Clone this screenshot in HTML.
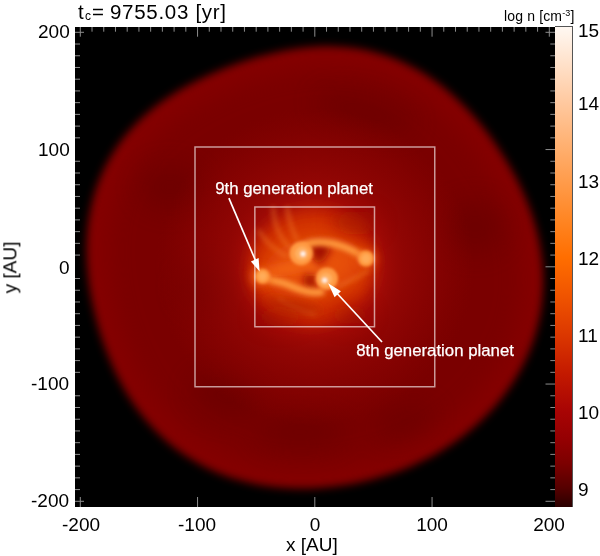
<!DOCTYPE html>
<html><head><meta charset="utf-8">
<style>
html,body{margin:0;padding:0;background:#fff;}
body{width:600px;height:556px;position:relative;overflow:hidden;font-family:"Liberation Sans",sans-serif;color:#000;}
.t{position:absolute;white-space:nowrap;line-height:1;will-change:transform;}
#plot{position:absolute;left:75px;top:27px;width:480px;height:480px;background:#000;overflow:hidden;}
#cbar{position:absolute;left:555px;top:26px;width:17px;height:480px;border:1px solid #555;border-left:none;border-bottom:none;
background:linear-gradient(to top,#2a0000 0%,#560000 4%,#7c0000 9%,#940002 14%,#a80404 20%,#c41a00 28%,#dc3800 36%,#f05400 44%,#ff6e00 52%,#ff8624 60%,#ff9c4c 68%,#ffb274 76%,#ffc89e 84%,#ffe0c8 92%,#fff8f2 100%);}
.yl{font-size:19px;}
.xl{font-size:19px;}
.cl{font-size:19px;}
</style></head>
<body>
<div class="t" style="left:77.5px;top:1.5px;font-size:20.5px;">t</div>
<div class="t" style="left:84.6px;top:9.5px;font-size:12px;">c</div>
<div class="t" style="left:92px;top:1.5px;font-size:20.5px;">=</div>
<div class="t" style="left:110px;top:1.5px;font-size:20.5px;letter-spacing:0.7px;">9755.03 [yr]</div>
<div class="t" style="left:504px;top:8.6px;font-size:14px;letter-spacing:0.15px;">log n [cm<span style="font-size:9px;position:relative;top:-4.6px;">-3</span>]</div>
<div id="plot">
<svg width="480" height="480" viewBox="0 0 480 480">
<!--CONTENT-->
<defs>
<filter id="b6" x="-20%" y="-20%" width="140%" height="140%"><feGaussianBlur stdDeviation="4.2"/></filter>
<filter id="b12" x="-100%" y="-100%" width="300%" height="300%"><feGaussianBlur stdDeviation="12"/></filter>
<filter id="b8" x="-50%" y="-50%" width="200%" height="200%"><feGaussianBlur stdDeviation="8"/></filter>
<filter id="b10" x="-50%" y="-50%" width="200%" height="200%"><feGaussianBlur stdDeviation="10"/></filter>
<filter id="b4" x="-50%" y="-50%" width="200%" height="200%"><feGaussianBlur stdDeviation="4"/></filter>
<filter id="b3" x="-50%" y="-50%" width="200%" height="200%"><feGaussianBlur stdDeviation="2.5"/></filter>
<filter id="b2" x="-50%" y="-50%" width="200%" height="200%"><feGaussianBlur stdDeviation="1.5"/></filter>
<radialGradient id="g1" cx="240" cy="240" r="160" gradientUnits="userSpaceOnUse">
<stop offset="0" stop-color="#c01808" stop-opacity="1"/>
<stop offset="0.35" stop-color="#b01008" stop-opacity="0.9"/>
<stop offset="0.55" stop-color="#a00a06" stop-opacity="0.6"/>
<stop offset="0.8" stop-color="#980604" stop-opacity="0.3"/>
<stop offset="1" stop-color="#900400" stop-opacity="0"/>
</radialGradient>
<radialGradient id="g2" cx="0.5" cy="0.5" r="0.5">
<stop offset="0" stop-color="#f06010" stop-opacity="1"/>
<stop offset="0.45" stop-color="#e85008" stop-opacity="0.9"/>
<stop offset="0.72" stop-color="#d43400" stop-opacity="0.5"/>
<stop offset="1" stop-color="#c02000" stop-opacity="0"/>
</radialGradient>
<radialGradient id="pl" cx="0.5" cy="0.5" r="0.5">
<stop offset="0" stop-color="#fff8f0"/>
<stop offset="0.1" stop-color="#ffd8a8"/>
<stop offset="0.3" stop-color="#ffa850"/>
<stop offset="0.75" stop-color="#ff8a28" stop-opacity="0.85"/>
<stop offset="1" stop-color="#ff7010" stop-opacity="0"/>
</radialGradient>
<radialGradient id="pl2" cx="0.5" cy="0.5" r="0.5">
<stop offset="0" stop-color="#ffa048"/>
<stop offset="0.5" stop-color="#ff8a28" stop-opacity="0.8"/>
<stop offset="1" stop-color="#ff6a10" stop-opacity="0"/>
</radialGradient>
</defs>
<path filter="url(#b6)" fill="#840300" d="M12.2,241.0 C11.7,234.4 11.4,227.7 11.4,221.0 C11.5,214.3 11.8,207.6 12.5,200.9 C13.2,194.2 14.3,187.5 15.7,180.9 C17.1,174.3 18.9,167.7 21.0,161.3 C23.2,154.9 25.8,148.6 28.7,142.5 C31.6,136.4 34.9,130.4 38.6,124.7 C42.2,119.0 46.2,113.5 50.5,108.3 C54.8,103.1 59.4,98.2 64.2,93.5 C69.0,88.8 74.1,84.5 79.3,80.3 C84.5,76.2 90.0,72.4 95.5,68.8 C101.0,65.1 106.6,61.8 112.3,58.7 C118.0,55.5 123.8,52.6 129.6,49.9 C135.5,47.1 141.4,44.6 147.3,42.2 C153.2,39.8 159.2,37.6 165.2,35.5 C171.2,33.5 177.3,31.5 183.4,29.8 C189.5,28.1 195.7,26.5 201.9,25.2 C208.2,23.8 214.5,22.6 220.8,21.7 C227.2,20.8 233.6,20.1 240.0,19.7 C246.4,19.3 252.9,19.2 259.4,19.4 C265.9,19.6 272.4,20.1 278.8,21.0 C285.2,21.9 291.6,23.2 297.9,24.7 C304.3,26.3 310.5,28.3 316.6,30.5 C322.7,32.8 328.7,35.5 334.5,38.4 C340.3,41.3 345.9,44.6 351.4,48.1 C356.8,51.6 362.1,55.4 367.2,59.3 C372.3,63.3 377.2,67.6 381.9,71.9 C386.6,76.3 391.1,80.9 395.4,85.6 C399.7,90.3 403.9,95.2 407.9,100.1 C411.9,105.1 415.7,110.2 419.4,115.4 C423.0,120.6 426.6,125.9 429.9,131.4 C433.3,136.8 436.5,142.3 439.5,148.0 C442.5,153.6 445.4,159.4 448.0,165.3 C450.7,171.2 453.2,177.2 455.4,183.3 C457.6,189.4 459.6,195.7 461.3,202.0 C463.0,208.3 464.4,214.8 465.5,221.3 C466.6,227.8 467.4,234.4 467.9,241.0 C468.3,247.6 468.5,254.3 468.2,261.0 C467.9,267.6 467.3,274.3 466.4,280.9 C465.4,287.5 464.0,294.1 462.3,300.6 C460.7,307.0 458.6,313.5 456.2,319.7 C453.8,325.9 451.1,332.1 448.0,338.0 C445.0,344.0 441.6,349.8 438.0,355.3 C434.4,360.9 430.5,366.3 426.4,371.5 C422.3,376.7 417.9,381.7 413.3,386.4 C408.7,391.2 403.9,395.7 399.0,400.0 C394.0,404.3 388.9,408.3 383.6,412.2 C378.4,416.0 372.9,419.6 367.4,422.9 C361.9,426.3 356.2,429.4 350.5,432.3 C344.7,435.3 338.9,437.9 333.0,440.4 C327.1,442.8 321.1,445.1 315.0,447.1 C309.0,449.1 302.8,450.9 296.7,452.5 C290.5,454.1 284.3,455.5 278.0,456.7 C271.8,457.9 265.5,458.8 259.1,459.6 C252.8,460.3 246.4,460.9 240.0,461.2 C233.6,461.5 227.2,461.6 220.7,461.4 C214.3,461.3 207.8,460.9 201.4,460.2 C194.9,459.5 188.4,458.6 182.0,457.4 C175.6,456.1 169.2,454.6 162.9,452.8 C156.6,450.9 150.4,448.8 144.2,446.4 C138.1,443.9 132.1,441.1 126.2,438.0 C120.4,434.9 114.7,431.5 109.2,427.8 C103.7,424.1 98.4,420.1 93.3,415.8 C88.3,411.5 83.4,406.9 78.9,402.1 C74.3,397.3 70.0,392.3 65.9,387.1 C61.9,381.9 58.1,376.4 54.5,370.9 C50.9,365.3 47.7,359.6 44.6,353.8 C41.5,348.0 38.7,342.1 36.1,336.1 C33.5,330.1 31.1,324.0 28.9,317.8 C26.7,311.7 24.7,305.5 22.9,299.2 C21.1,292.9 19.5,286.5 18.1,280.1 C16.7,273.7 15.4,267.3 14.4,260.7 C13.5,254.2 12.7,247.6 12.2,241.0 Z"/>
<path filter="url(#b12)" fill="#7a0000" transform="translate(240 241) scale(0.9) translate(-240 -241)" d="M12.2,241.0 C11.7,234.4 11.4,227.7 11.4,221.0 C11.5,214.3 11.8,207.6 12.5,200.9 C13.2,194.2 14.3,187.5 15.7,180.9 C17.1,174.3 18.9,167.7 21.0,161.3 C23.2,154.9 25.8,148.6 28.7,142.5 C31.6,136.4 34.9,130.4 38.6,124.7 C42.2,119.0 46.2,113.5 50.5,108.3 C54.8,103.1 59.4,98.2 64.2,93.5 C69.0,88.8 74.1,84.5 79.3,80.3 C84.5,76.2 90.0,72.4 95.5,68.8 C101.0,65.1 106.6,61.8 112.3,58.7 C118.0,55.5 123.8,52.6 129.6,49.9 C135.5,47.1 141.4,44.6 147.3,42.2 C153.2,39.8 159.2,37.6 165.2,35.5 C171.2,33.5 177.3,31.5 183.4,29.8 C189.5,28.1 195.7,26.5 201.9,25.2 C208.2,23.8 214.5,22.6 220.8,21.7 C227.2,20.8 233.6,20.1 240.0,19.7 C246.4,19.3 252.9,19.2 259.4,19.4 C265.9,19.6 272.4,20.1 278.8,21.0 C285.2,21.9 291.6,23.2 297.9,24.7 C304.3,26.3 310.5,28.3 316.6,30.5 C322.7,32.8 328.7,35.5 334.5,38.4 C340.3,41.3 345.9,44.6 351.4,48.1 C356.8,51.6 362.1,55.4 367.2,59.3 C372.3,63.3 377.2,67.6 381.9,71.9 C386.6,76.3 391.1,80.9 395.4,85.6 C399.7,90.3 403.9,95.2 407.9,100.1 C411.9,105.1 415.7,110.2 419.4,115.4 C423.0,120.6 426.6,125.9 429.9,131.4 C433.3,136.8 436.5,142.3 439.5,148.0 C442.5,153.6 445.4,159.4 448.0,165.3 C450.7,171.2 453.2,177.2 455.4,183.3 C457.6,189.4 459.6,195.7 461.3,202.0 C463.0,208.3 464.4,214.8 465.5,221.3 C466.6,227.8 467.4,234.4 467.9,241.0 C468.3,247.6 468.5,254.3 468.2,261.0 C467.9,267.6 467.3,274.3 466.4,280.9 C465.4,287.5 464.0,294.1 462.3,300.6 C460.7,307.0 458.6,313.5 456.2,319.7 C453.8,325.9 451.1,332.1 448.0,338.0 C445.0,344.0 441.6,349.8 438.0,355.3 C434.4,360.9 430.5,366.3 426.4,371.5 C422.3,376.7 417.9,381.7 413.3,386.4 C408.7,391.2 403.9,395.7 399.0,400.0 C394.0,404.3 388.9,408.3 383.6,412.2 C378.4,416.0 372.9,419.6 367.4,422.9 C361.9,426.3 356.2,429.4 350.5,432.3 C344.7,435.3 338.9,437.9 333.0,440.4 C327.1,442.8 321.1,445.1 315.0,447.1 C309.0,449.1 302.8,450.9 296.7,452.5 C290.5,454.1 284.3,455.5 278.0,456.7 C271.8,457.9 265.5,458.8 259.1,459.6 C252.8,460.3 246.4,460.9 240.0,461.2 C233.6,461.5 227.2,461.6 220.7,461.4 C214.3,461.3 207.8,460.9 201.4,460.2 C194.9,459.5 188.4,458.6 182.0,457.4 C175.6,456.1 169.2,454.6 162.9,452.8 C156.6,450.9 150.4,448.8 144.2,446.4 C138.1,443.9 132.1,441.1 126.2,438.0 C120.4,434.9 114.7,431.5 109.2,427.8 C103.7,424.1 98.4,420.1 93.3,415.8 C88.3,411.5 83.4,406.9 78.9,402.1 C74.3,397.3 70.0,392.3 65.9,387.1 C61.9,381.9 58.1,376.4 54.5,370.9 C50.9,365.3 47.7,359.6 44.6,353.8 C41.5,348.0 38.7,342.1 36.1,336.1 C33.5,330.1 31.1,324.0 28.9,317.8 C26.7,311.7 24.7,305.5 22.9,299.2 C21.1,292.9 19.5,286.5 18.1,280.1 C16.7,273.7 15.4,267.3 14.4,260.7 C13.5,254.2 12.7,247.6 12.2,241.0 Z"/>
<g filter="url(#b12)" fill="#660000" opacity="0.55">
<ellipse cx="95" cy="160" rx="30" ry="22"/>
<ellipse cx="290" cy="85" rx="50" ry="16" transform="rotate(15 290 85)"/>
<ellipse cx="400" cy="200" rx="30" ry="26"/>
<ellipse cx="135" cy="260" rx="30" ry="24"/>
<ellipse cx="150" cy="370" rx="35" ry="20" transform="rotate(20 150 370)"/>
<ellipse cx="225" cy="405" rx="45" ry="16"/>
<ellipse cx="330" cy="395" rx="30" ry="14" transform="rotate(-20 330 395)"/>
</g>

<circle cx="240" cy="240" r="160" fill="url(#g1)"/>
<ellipse cx="237" cy="240" rx="62" ry="56" transform="rotate(-12 237 240)" fill="#d23200" filter="url(#b8)"/>
<ellipse cx="238" cy="240" rx="50" ry="30" transform="rotate(-12 238 240)" fill="#ee5a0c" opacity="0.75" filter="url(#b10)"/>
<!-- streaks -->
<g filter="url(#b3)" fill="none" stroke="#f88a30" stroke-linecap="round" opacity="0.4">
<path d="M198,181 C199,196 204,210 214,220" stroke-width="4"/>
<path d="M212,181 C214,194 218,205 222,213" stroke-width="4"/>
<path d="M184,204 C190,214 198,222 211,229" stroke-width="4"/>
<path d="M293,244 C282,250 272,256 262,260" stroke-width="4"/>
<path d="M204,272 C214,279 226,284 240,287" stroke-width="3.5"/>
</g>
<!-- dark lanes -->
<g filter="url(#b10)" fill="#a01000" opacity="0.55">
<ellipse cx="282" cy="196" rx="22" ry="12"/>
<ellipse cx="205" cy="290" rx="24" ry="10"/>
<ellipse cx="275" cy="288" rx="20" ry="10"/>
</g>
<g filter="url(#b4)" fill="#b02000" opacity="0.5">
<ellipse cx="218" cy="279" rx="30" ry="7" transform="rotate(10 218 279)"/>
<ellipse cx="275" cy="196" rx="18" ry="6" transform="rotate(10 275 196)"/>
</g>
<g filter="url(#b4)" fill="#a01000" opacity="1">
<path d="M234,217 C242,215 250,215 256,219 C255,226 249,233 243,239 C240,234 237,228 235,222 Z"/>
<path d="M232,247 C236,246 240,247 242,249 C239,253 239,258 243,262 C238,263 232,261 229,257 C228,253 229,249 232,247 Z"/>
</g>
<!-- arms -->
<g filter="url(#b3)" fill="none" stroke-linecap="round">
<path d="M230,218 C235,215.5 240,214.8 246,215 C254,215.3 262,217.3 270,220.3 C278,223.6 285,227.2 291,232" stroke="#ff9a3c" stroke-width="7" opacity="1"/>
<path d="M187,249.3 C191,251 194,252.5 197.5,253.4 C202,254.6 206,255.4 209.2,256.3 C213,257.6 217,259.6 220.8,261 C225,262.6 229,263.8 232.5,264.5 C237,265.4 241,265.8 246,265" stroke="#ff9a3c" stroke-width="7" opacity="1"/>
</g>
<g filter="url(#b4)" fill="none" stroke-linecap="round">
<path d="M195,245 C205,243 215,241 226,238 C232,236 236,238 240,244" stroke="#ff7a20" stroke-width="9" opacity="0.5"/>
</g>
<circle cx="185.5" cy="249.5" r="10" fill="#f06018" opacity="0.75" filter="url(#b4)"/>
<circle cx="292" cy="231.5" r="10" fill="#f06018" opacity="0.6" filter="url(#b4)"/>
<g filter="url(#b2)">
<circle cx="226.2" cy="226.4" r="11.8" fill="#ff9a42"/>
<circle cx="251.8" cy="251.6" r="11.2" fill="#ff9a42"/>
<circle cx="187.5" cy="249.3" r="7.5" fill="#ff9a40"/>
<circle cx="291" cy="231.5" r="8" fill="#ff9a40"/>
<circle cx="227" cy="226.6" r="7" fill="#ffb060"/>
<circle cx="250.8" cy="252.2" r="6.5" fill="#ffb060"/>
<circle cx="187.5" cy="249.3" r="4" fill="#ffac58"/>
<circle cx="291" cy="231.5" r="4.5" fill="#ffac58"/>
<circle cx="228" cy="226.9" r="2.3" fill="#fff"/>
<circle cx="249.7" cy="253.3" r="2.3" fill="#fff"/>
</g>
<!--/CONTENT-->
<!-- boxes -->
<rect x="120" y="120" width="239.75" height="239.75" fill="none" stroke="#fff" stroke-opacity="0.6" stroke-width="1.5"/>
<rect x="179.85" y="180" width="119.65" height="119.75" fill="none" stroke="#fff" stroke-opacity="0.6" stroke-width="1.5"/>
<!-- arrows -->
<g stroke="#fff" stroke-width="1.7" fill="#fff">
<line x1="153.9" y1="171.2" x2="182" y2="237"/>
<polygon points="184.6,244.6 175.9,234.6 183.6,231.0" stroke="none"/>
<line x1="307" y1="315" x2="258" y2="262"/>
<polygon points="253.1,256.3 259.6,270.3 265.9,264.2" stroke="none"/>
</g>
<text x="140.2" y="167.3" fill="#fff" font-family="Liberation Sans" font-size="16.8" stroke="#fff" stroke-width="0.25">9th generation planet</text>
<text x="281.2" y="328.7" fill="#fff" font-family="Liberation Sans" font-size="16.8" stroke="#fff" stroke-width="0.25">8th generation planet</text>
<!-- ticks -->
<g stroke="#8c8c8c" stroke-width="1">
<line x1="5.30" y1="0" x2="5.30" y2="9.7"/>
<line x1="5.30" y1="480" x2="5.30" y2="470"/>
<line x1="0" y1="474.30" x2="9" y2="474.30"/>
<line x1="480" y1="474.30" x2="470.5" y2="474.30"/>
<line x1="17.03" y1="0" x2="17.03" y2="4.7"/>
<line x1="0" y1="462.58" x2="5" y2="462.58"/>
<line x1="480" y1="462.58" x2="475.3" y2="462.58"/>
<line x1="28.75" y1="0" x2="28.75" y2="4.7"/>
<line x1="0" y1="450.85" x2="5" y2="450.85"/>
<line x1="480" y1="450.85" x2="475.3" y2="450.85"/>
<line x1="40.48" y1="0" x2="40.48" y2="4.7"/>
<line x1="0" y1="439.13" x2="5" y2="439.13"/>
<line x1="480" y1="439.13" x2="475.3" y2="439.13"/>
<line x1="52.20" y1="0" x2="52.20" y2="4.7"/>
<line x1="0" y1="427.40" x2="5" y2="427.40"/>
<line x1="480" y1="427.40" x2="475.3" y2="427.40"/>
<line x1="63.93" y1="0" x2="63.93" y2="4.7"/>
<line x1="0" y1="415.68" x2="5" y2="415.68"/>
<line x1="480" y1="415.68" x2="475.3" y2="415.68"/>
<line x1="75.65" y1="0" x2="75.65" y2="4.7"/>
<line x1="0" y1="403.95" x2="5" y2="403.95"/>
<line x1="480" y1="403.95" x2="475.3" y2="403.95"/>
<line x1="87.38" y1="0" x2="87.38" y2="4.7"/>
<line x1="0" y1="392.23" x2="5" y2="392.23"/>
<line x1="480" y1="392.23" x2="475.3" y2="392.23"/>
<line x1="99.10" y1="0" x2="99.10" y2="4.7"/>
<line x1="0" y1="380.50" x2="5" y2="380.50"/>
<line x1="480" y1="380.50" x2="475.3" y2="380.50"/>
<line x1="110.83" y1="0" x2="110.83" y2="4.7"/>
<line x1="0" y1="368.78" x2="5" y2="368.78"/>
<line x1="480" y1="368.78" x2="475.3" y2="368.78"/>
<line x1="122.55" y1="0" x2="122.55" y2="9.7"/>
<line x1="122.55" y1="480" x2="122.55" y2="470"/>
<line x1="480" y1="357.05" x2="470.5" y2="357.05"/>
<line x1="134.28" y1="0" x2="134.28" y2="4.7"/>
<line x1="0" y1="345.33" x2="5" y2="345.33"/>
<line x1="480" y1="345.33" x2="475.3" y2="345.33"/>
<line x1="146.00" y1="0" x2="146.00" y2="4.7"/>
<line x1="0" y1="333.60" x2="5" y2="333.60"/>
<line x1="480" y1="333.60" x2="475.3" y2="333.60"/>
<line x1="157.73" y1="0" x2="157.73" y2="4.7"/>
<line x1="0" y1="321.88" x2="5" y2="321.88"/>
<line x1="480" y1="321.88" x2="475.3" y2="321.88"/>
<line x1="169.45" y1="0" x2="169.45" y2="4.7"/>
<line x1="0" y1="310.15" x2="5" y2="310.15"/>
<line x1="480" y1="310.15" x2="475.3" y2="310.15"/>
<line x1="181.18" y1="0" x2="181.18" y2="4.7"/>
<line x1="0" y1="298.43" x2="5" y2="298.43"/>
<line x1="480" y1="298.43" x2="475.3" y2="298.43"/>
<line x1="192.90" y1="0" x2="192.90" y2="4.7"/>
<line x1="0" y1="286.70" x2="5" y2="286.70"/>
<line x1="480" y1="286.70" x2="475.3" y2="286.70"/>
<line x1="204.63" y1="0" x2="204.63" y2="4.7"/>
<line x1="0" y1="274.98" x2="5" y2="274.98"/>
<line x1="480" y1="274.98" x2="475.3" y2="274.98"/>
<line x1="216.35" y1="0" x2="216.35" y2="4.7"/>
<line x1="0" y1="263.25" x2="5" y2="263.25"/>
<line x1="480" y1="263.25" x2="475.3" y2="263.25"/>
<line x1="228.08" y1="0" x2="228.08" y2="4.7"/>
<line x1="0" y1="251.53" x2="5" y2="251.53"/>
<line x1="480" y1="251.53" x2="475.3" y2="251.53"/>
<line x1="239.80" y1="0" x2="239.80" y2="9.7"/>
<line x1="239.80" y1="480" x2="239.80" y2="470"/>
<line x1="480" y1="239.80" x2="470.5" y2="239.80"/>
<line x1="251.53" y1="0" x2="251.53" y2="4.7"/>
<line x1="0" y1="228.08" x2="5" y2="228.08"/>
<line x1="480" y1="228.08" x2="475.3" y2="228.08"/>
<line x1="263.25" y1="0" x2="263.25" y2="4.7"/>
<line x1="0" y1="216.35" x2="5" y2="216.35"/>
<line x1="480" y1="216.35" x2="475.3" y2="216.35"/>
<line x1="274.98" y1="0" x2="274.98" y2="4.7"/>
<line x1="0" y1="204.63" x2="5" y2="204.63"/>
<line x1="480" y1="204.63" x2="475.3" y2="204.63"/>
<line x1="286.70" y1="0" x2="286.70" y2="4.7"/>
<line x1="0" y1="192.90" x2="5" y2="192.90"/>
<line x1="480" y1="192.90" x2="475.3" y2="192.90"/>
<line x1="298.43" y1="0" x2="298.43" y2="4.7"/>
<line x1="0" y1="181.18" x2="5" y2="181.18"/>
<line x1="480" y1="181.18" x2="475.3" y2="181.18"/>
<line x1="310.15" y1="0" x2="310.15" y2="4.7"/>
<line x1="0" y1="169.45" x2="5" y2="169.45"/>
<line x1="480" y1="169.45" x2="475.3" y2="169.45"/>
<line x1="321.88" y1="0" x2="321.88" y2="4.7"/>
<line x1="0" y1="157.73" x2="5" y2="157.73"/>
<line x1="480" y1="157.73" x2="475.3" y2="157.73"/>
<line x1="333.60" y1="0" x2="333.60" y2="4.7"/>
<line x1="0" y1="146.00" x2="5" y2="146.00"/>
<line x1="480" y1="146.00" x2="475.3" y2="146.00"/>
<line x1="345.33" y1="0" x2="345.33" y2="4.7"/>
<line x1="0" y1="134.28" x2="5" y2="134.28"/>
<line x1="480" y1="134.28" x2="475.3" y2="134.28"/>
<line x1="357.05" y1="0" x2="357.05" y2="9.7"/>
<line x1="357.05" y1="480" x2="357.05" y2="470"/>
<line x1="480" y1="122.55" x2="470.5" y2="122.55"/>
<line x1="368.78" y1="0" x2="368.78" y2="4.7"/>
<line x1="0" y1="110.83" x2="5" y2="110.83"/>
<line x1="480" y1="110.83" x2="475.3" y2="110.83"/>
<line x1="380.50" y1="0" x2="380.50" y2="4.7"/>
<line x1="0" y1="99.10" x2="5" y2="99.10"/>
<line x1="480" y1="99.10" x2="475.3" y2="99.10"/>
<line x1="392.23" y1="0" x2="392.23" y2="4.7"/>
<line x1="0" y1="87.38" x2="5" y2="87.38"/>
<line x1="480" y1="87.38" x2="475.3" y2="87.38"/>
<line x1="403.95" y1="0" x2="403.95" y2="4.7"/>
<line x1="0" y1="75.65" x2="5" y2="75.65"/>
<line x1="480" y1="75.65" x2="475.3" y2="75.65"/>
<line x1="415.68" y1="0" x2="415.68" y2="4.7"/>
<line x1="0" y1="63.93" x2="5" y2="63.93"/>
<line x1="480" y1="63.93" x2="475.3" y2="63.93"/>
<line x1="427.40" y1="0" x2="427.40" y2="4.7"/>
<line x1="0" y1="52.20" x2="5" y2="52.20"/>
<line x1="480" y1="52.20" x2="475.3" y2="52.20"/>
<line x1="439.13" y1="0" x2="439.13" y2="4.7"/>
<line x1="0" y1="40.48" x2="5" y2="40.48"/>
<line x1="480" y1="40.48" x2="475.3" y2="40.48"/>
<line x1="450.85" y1="0" x2="450.85" y2="4.7"/>
<line x1="0" y1="28.75" x2="5" y2="28.75"/>
<line x1="480" y1="28.75" x2="475.3" y2="28.75"/>
<line x1="462.58" y1="0" x2="462.58" y2="4.7"/>
<line x1="0" y1="17.03" x2="5" y2="17.03"/>
<line x1="480" y1="17.03" x2="475.3" y2="17.03"/>
<line x1="474.30" y1="0" x2="474.30" y2="9.7"/>
<line x1="0" y1="5.30" x2="9" y2="5.30"/>
<line x1="480" y1="5.30" x2="470.5" y2="5.30"/>

</g>
</svg>
</div>
<div id="cbar"></div>

<!-- y tick labels -->
<div class="t yl" style="right:530.6px;top:21.9px;">200</div>
<div class="t yl" style="right:530.6px;top:140px;">100</div>
<div class="t yl" style="right:530.6px;top:258.1px;">0</div>
<div class="t yl" style="right:530.6px;top:374px;">-100</div>
<div class="t yl" style="right:530.6px;top:490.5px;">-200</div>
<!-- x tick labels -->
<div class="t xl" style="left:80.5px;top:515.2px;transform:translateX(-50%);">-200</div>
<div class="t xl" style="left:197.2px;top:515.2px;transform:translateX(-50%);">-100</div>
<div class="t xl" style="left:314.7px;top:515.2px;transform:translateX(-50%);">0</div>
<div class="t xl" style="left:432.3px;top:515.2px;transform:translateX(-50%);">100</div>
<div class="t xl" style="left:549.2px;top:515.2px;transform:translateX(-50%);">200</div>
<div class="t xl" style="left:285.8px;top:534.7px;">x [AU]</div>
<div class="t xl" style="left:-16.5px;top:257.5px;transform:rotate(-90deg);transform-origin:50% 50%;">y [AU]</div>
<!-- colorbar labels -->
<div class="t cl" style="left:578px;top:21.1px;">15</div>
<div class="t cl" style="left:578px;top:94px;">14</div>
<div class="t cl" style="left:578px;top:171.9px;">13</div>
<div class="t cl" style="left:578px;top:248.5px;">12</div>
<div class="t cl" style="left:578px;top:325.5px;">11</div>
<div class="t cl" style="left:578px;top:403px;">10</div>
<div class="t cl" style="left:578px;top:480px;">9</div>
</body></html>
